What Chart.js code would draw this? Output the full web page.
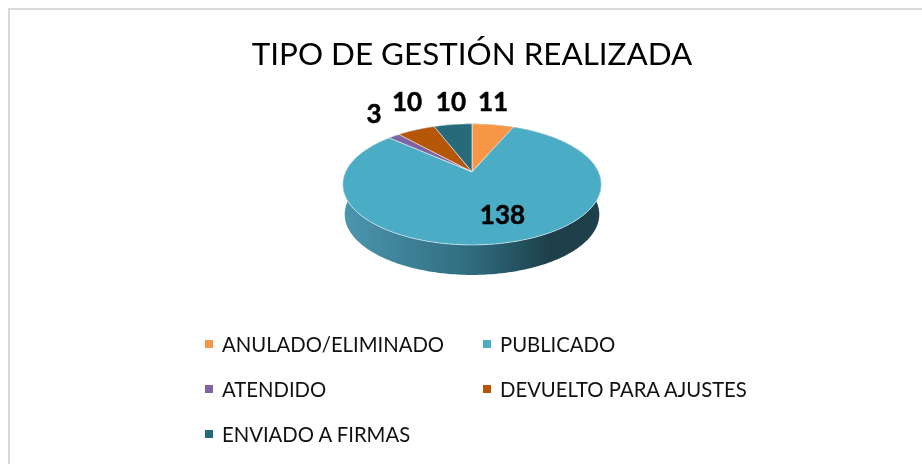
<!DOCTYPE html>
<html>
<head>
<meta charset="utf-8">
<script src="https://cdn.jsdelivr.net/npm/chart.js@4"></script>
<style>
html, body { margin: 0; padding: 0; background: #fff; overflow: hidden; }
#wrap { position: relative; width: 922px; height: 464px; }
#frame { position: absolute; left: 8px; top: 8px; right: 0; bottom: 0; border-left: 2px solid #d9d9d9; border-top: 2px solid #d9d9d9; }
canvas { position: absolute; left: 0; top: 0; }
.item { position: absolute; font: 20.3px Lato, sans-serif; color: #111; white-space: nowrap; line-height: 26px; }
.item i { position: absolute; left: -17px; top: 9px; width: 8px; height: 8px; }
</style>
</head>
<body>
<div id="wrap">
  <div id="frame"></div>
  <canvas id="myChart" width="922" height="464"></canvas>
  <div id="legend"></div>
</div>
<script>
var categories = ['ANULADO/ELIMINADO', 'PUBLICADO', 'ATENDIDO', 'DEVUELTO PARA AJUSTES', 'ENVIADO A FIRMAS'];
var values = [11, 138, 3, 10, 10];
var colors = ['#f79646', '#4bacc6', '#8064a2', '#b65708', '#276a7c'];

// label position relative to the slice's outer edge
var labelOffsets = [[0, -22], [-4, -27], [-20, -21], [-9, -27], [-2, -22]];
// legend is laid out on a grid like the original
var legendSpots = [[222, 331], [500, 331], [222, 376], [500, 376], [222, 421]];

// tilted disc in perspective: the centre sits behind the middle of the ellipse
var persp = 0.2066, spreadX = 1.315, spreadY = 0.603, depth = 30, bottomScale = 0.985;

function project(el, angle) {
  var X = Math.cos(angle), Y = Math.sin(angle), d = 1 - persp * Y;
  return {
    x: el.x + el.outerRadius * spreadX * X / d,
    y: el.y + el.outerRadius * spreadY * Y / d
  };
}

function rimPoints(el) {
  var pts = [], n = Math.ceil((el.endAngle - el.startAngle) / 0.02);
  for (var i = 0; i <= n; i++) {
    pts.push(project(el, el.startAngle + (el.endAngle - el.startAngle) * i / n));
  }
  return pts;
}

// top face of a slice
Chart.ArcElement.prototype.draw = function(ctx) {
  var pts = rimPoints(this);
  ctx.save();
  ctx.beginPath();
  ctx.moveTo(this.x, this.y);
  pts.forEach(function(p) { ctx.lineTo(p.x, p.y); });
  ctx.closePath();
  ctx.fillStyle = this.options.backgroundColor;
  ctx.fill();
  ctx.lineWidth = 1;
  ctx.strokeStyle = 'rgba(255,255,255,0.55)';
  ctx.stroke();
  ctx.restore();
};

var sideWall = {
  id: 'sideWall',
  beforeDatasetsDraw: function(chart) {
    var ctx = chart.ctx;
    chart.getDatasetMeta(0).data.forEach(function(el) {
      var pts = rimPoints(el);
      var left = el.x - el.outerRadius * spreadX * 1.02, right = el.x + el.outerRadius * spreadX * 1.02;
      var g = ctx.createLinearGradient(left, 0, right, 0);
      g.addColorStop(0, '#4c96af');
      g.addColorStop(0.5, '#2f6b7e');
      g.addColorStop(0.8, '#1d404b');
      g.addColorStop(1, '#1d404b');
      ctx.save();
      ctx.beginPath();
      pts.forEach(function(p, i) {
        if (i == 0) ctx.moveTo(p.x, p.y); else ctx.lineTo(p.x, p.y);
      });
      pts.slice().reverse().forEach(function(p) {
        ctx.lineTo(el.x + (p.x - el.x) * bottomScale, p.y + depth);
      });
      ctx.closePath();
      ctx.fillStyle = g;
      ctx.fill();
      ctx.restore();
    });
  }
};

var valueLabels = {
  id: 'valueLabels',
  afterDatasetsDraw: function(chart) {
    var ctx = chart.ctx;
    ctx.save();
    ctx.font = 'bold 26px Lato, sans-serif';
    ctx.fillStyle = '#000';
    ctx.strokeStyle = '#000';
    ctx.lineWidth = 0.5;
    ctx.textAlign = 'center';
    ctx.textBaseline = 'middle';
    chart.getDatasetMeta(0).data.forEach(function(el, i) {
      var p = project(el, (el.startAngle + el.endAngle) / 2);
      ctx.fillText(values[i], p.x + labelOffsets[i][0], p.y + labelOffsets[i][1]);
      ctx.strokeText(values[i], p.x + labelOffsets[i][0], p.y + labelOffsets[i][1]);
    });
    ctx.restore();
  }
};

new Chart(document.getElementById('myChart'), {
  type: 'pie',
  plugins: [sideWall, valueLabels],
  data: {
    labels: categories,
    datasets: [{ data: values, backgroundColor: colors, borderWidth: 0 }]
  },
  options: {
    responsive: false,
    animation: false,
    layout: { padding: { left: 22, right: 0, top: 0, bottom: 196 } },
    plugins: {
      legend: { display: false },
      tooltip: { enabled: false },
      title: {
        display: true,
        text: 'TIPO DE GESTIÓN REALIZADA',
        color: '#000',
        font: { family: 'Lato, sans-serif', size: 31.4, weight: 'normal' },
        padding: { top: 36, bottom: 2 }
      }
    }
  }
});

var legend = document.getElementById('legend');
categories.forEach(function(name, i) {
  var d = document.createElement('div');
  d.className = 'item';
  d.style.left = legendSpots[i][0] + 'px';
  d.style.top = legendSpots[i][1] + 'px';
  d.innerHTML = '<i style="background:' + colors[i] + '"></i>' + name;
  legend.appendChild(d);
});
</script>
</body>
</html>
